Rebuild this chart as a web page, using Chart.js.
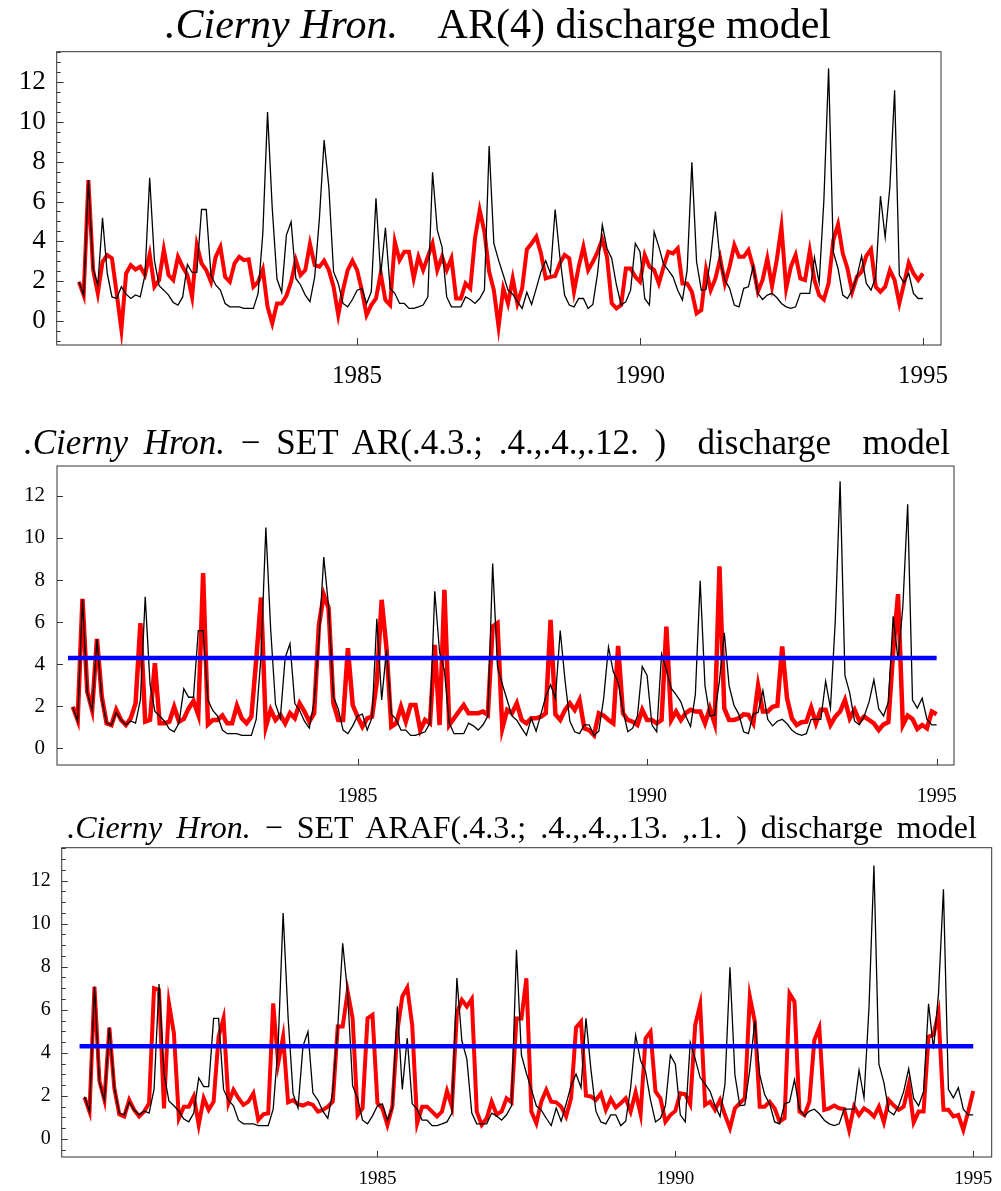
<!DOCTYPE html>
<html>
<head>
<meta charset="utf-8">
<script src="https://cdn.jsdelivr.net/npm/chart.js@4.4.1/dist/chart.umd.min.js"></script>
<style>
html, body { margin: 0; padding: 0; background: #fff; }
body { width: 1001px; height: 1191px; position: relative; overflow: hidden; font-family: 'Liberation Serif', 'Times New Roman', serif; }
canvas { position: absolute; left: 0; }
.title { position: absolute; white-space: pre; transform: translateX(-50%); line-height: 1; color: #000; }
</style>
</head>
<body>
<canvas id="c1" width="1001" height="370" style="top:40px"></canvas>
<canvas id="c2" width="1001" height="360" style="top:460px"></canvas>
<canvas id="c3" width="1001" height="349" style="top:842px"></canvas>
<div class="title" style="left:498px;top:3px;font-size:42px"><i>.Cierny Hron.</i>    AR(4) discharge model</div>
<div class="title" style="left:487px;top:425px;font-size:35px;word-spacing:7px"><i>.Cierny Hron.</i> − SET AR(.4.3.; .4.,.4.,.12. )  discharge  model</div>
<div class="title" style="left:522px;top:811px;font-size:32px;word-spacing:6px"><i>.Cierny Hron.</i> − SET ARAF(.4.3.; .4.,.4.,.13. ,.1. ) discharge model</div>
<script>
// observed monthly discharge (black), 1980-1994
const obs = [
  1.96, 1.29, 7.08, 2.63, 1.8, 5.18, 2.38, 1.2, 1.12, 1.71, 1.34, 1.12,
  1.3, 1.2, 2.3, 7.2, 3.05, 1.76, 1.54, 1.29, 0.92, 0.79, 1.2, 2.83,
  2.43, 2.43, 5.6, 5.6, 2.3, 1.8, 1.54, 0.87, 0.7, 0.7, 0.7, 0.62,
  0.62, 0.62, 1.38, 4.4, 10.5, 5.65, 2.1, 1.43, 4.31, 4.98, 2.13, 1.8,
  1.29, 0.96, 2.21, 5.15, 9.09, 6.74, 2.47, 1.88, 0.87, 0.7, 1.07, 1.54,
  1.63, 0.87, 1.46, 6.16, 2.3, 4.68, 1.63, 1.38, 0.87, 0.87, 0.62, 0.62,
  0.7, 0.79, 1.2, 7.47, 4.56, 3.72, 1.2, 0.7, 0.7, 0.7, 1.2, 1.07,
  0.87, 1.12, 1.54, 8.79, 3.89, 3.05, 2.3, 1.54, 1.34, 0.96, 0.62, 1.43,
  0.82, 1.63, 2.47, 3.02, 2.38, 5.6, 3.22, 1.29, 0.79, 0.7, 1.12, 1.12,
  0.62, 0.82, 2.38, 4.82, 3.64, 3.14, 1.8, 0.79, 0.96, 1.54, 3.89, 3.47,
  1.12, 0.79, 4.48, 3.72, 2.85, 2.55, 2.21, 1.54, 1.04, 2.55, 7.97, 2.97,
  1.54, 1.58, 3.22, 5.49, 2.97, 2.05, 1.63, 0.79, 0.7, 1.63, 1.71, 2.75,
  1.38, 1.07, 1.29, 1.38, 1.17, 0.87, 0.7, 0.62, 0.7, 1.38, 1.38, 1.38,
  3.19, 1.91, 6.07, 12.7, 3.47, 2.63, 1.29, 1.12, 1.54, 2.21, 3.26, 1.88,
  1.54, 2.21, 6.28, 4.19, 6.74, 11.6, 2.3, 1.91, 2.38, 1.38, 1.12, 1.12
];
// AR(4) model (red, top panel)
const ar4 = [
  1.96, 1.29, 7.08, 2.55, 1.38, 2.97, 3.31, 3.14, 1.38, -0.45, 2.38, 2.8,
  2.58, 2.72, 2.3, 3.34, 1.71, 2.05, 3.59, 2.3, 2.05, 3.22, 2.72, 2.3,
  1.2, 3.81, 2.89, 2.55, 1.96, 3.22, 3.72, 2.21, 1.96, 2.89, 3.22, 3.05,
  3.09, 1.71, 1.96, 2.58, 0.7, -0.13, 0.87, 0.87, 1.25, 1.96, 3.05, 2.3,
  2.55, 3.87, 2.8, 2.72, 3.02, 2.55, 1.71, 0.29, 1.54, 2.55, 3.02, 2.55,
  1.54, 0.29, 0.79, 1.12, 2.38, 1.04, 0.79, 3.97, 3.05, 3.47, 3.47, 2.13,
  3.22, 2.55, 3.22, 3.89, 2.55, 3.22, 2.55, 3.14, 1.12, 1.12, 1.88, 1.63,
  4.14, 5.57, 4.48, 2.47, 1.54, -0.3, 1.63, 0.87, 2.13, 0.87, 1.63, 3.59,
  3.89, 4.23, 3.39, 2.13, 2.21, 2.25, 2.89, 3.31, 3.14, 1.46, 2.72, 3.72,
  2.55, 2.97, 3.47, 4.09, 3.22, 0.87, 0.62, 0.79, 2.63, 2.63, 2.21, 1.96,
  3.31, 2.72, 2.55, 1.88, 2.72, 3.47, 3.39, 3.64, 1.88, 1.88, 1.46, 0.37,
  0.54, 2.58, 1.54, 2.13, 3.14, 1.88, 2.72, 3.81, 3.22, 3.22, 3.56, 2.72,
  1.46, 2.05, 3.14, 1.74, 3.05, 4.73, 1.63, 2.72, 3.31, 2.13, 2.05, 3.52,
  2.05, 1.29, 1.07, 1.88, 4.06, 4.85, 3.39, 2.63, 1.46, 2.21, 2.47, 3.26,
  3.59, 1.71, 1.46, 1.71, 2.55, 2.05, 0.87, 1.88, 2.92, 2.38, 2.05, 2.38
];
// SETAR model (red, middle panel)
const setar = [
  1.98, 1.35, 7.11, 2.7, 1.83, 5.2, 2.46, 1.19, 1.11, 1.83, 1.35, 1.11,
  1.43, 2.14, 5.95, 1.27, 1.35, 4.05, 1.19, 1.19, 1.27, 1.98, 1.27, 1.4,
  1.9, 2.25, 1.59, 8.33, 1.14, 1.35, 1.35, 1.56, 1.19, 1.19, 2.03, 1.43,
  1.19, 1.51, 4.21, 7.17, 1.03, 1.83, 1.35, 1.59, 1.19, 1.67, 1.43, 2.14,
  1.75, 1.27, 1.67, 5.87, 7.3, 6.67, 2.14, 1.35, 1.35, 4.76, 2.06, 1.51,
  1.03, 1.43, 1.51, 3.17, 7.06, 4.76, 1.03, 1.19, 1.98, 1.27, 2.06, 2.06,
  0.87, 1.35, 1.19, 4.92, 1.11, 7.54, 1.11, 1.43, 1.75, 2.06, 1.67, 1.67,
  1.67, 1.75, 1.59, 5.79, 5.95, 0.95, 1.83, 1.67, 2.14, 1.35, 1.19, 1.43,
  1.43, 1.51, 1.67, 6.11, 1.62, 1.35, 1.83, 2.14, 1.83, 2.3, 0.95, 0.87,
  0.63, 1.67, 1.56, 1.35, 1.19, 4.87, 1.67, 1.35, 1.27, 1.11, 1.83, 1.35,
  1.35, 1.19, 1.35, 5.79, 1.35, 1.75, 1.35, 1.67, 1.83, 1.75, 1.75, 1.19,
  1.9, 1.19, 8.65, 1.9, 1.35, 1.35, 1.43, 1.62, 1.59, 1.19, 2.98, 1.75,
  1.75, 1.98, 2.03, 4.84, 2.38, 1.43, 1.11, 1.24, 1.27, 1.94, 1.19, 1.83,
  1.83, 1.11, 1.51, 1.75, 2.3, 1.43, 1.83, 1.3, 1.51, 1.35, 1.19, 0.87,
  1.14, 1.24, 4.6, 7.33, 1.11, 1.56, 1.4, 0.92, 1.11, 0.95, 1.75, 1.62
];
// SETARAF model (red, bottom panel)
const setaraf = [
  1.93, 1.27, 7.07, 2.69, 1.81, 5.17, 2.35, 1.14, 1.04, 1.81, 1.35, 1.04,
  1.27, 1.66, 7.0, 6.92, 1.42, 6.3, 4.91, 0.96, 1.5, 1.5, 1.97, 0.65,
  1.89, 1.35, 1.73, 4.75, 5.6, 1.66, 2.28, 1.89, 1.58, 1.73, 2.12, 0.88,
  1.14, 1.19, 6.3, 3.51, 4.75, 1.7, 1.8, 1.61, 1.55, 1.66, 1.58, 1.27,
  1.35, 1.5, 1.73, 5.22, 5.22, 6.84, 5.6, 1.11, 1.42, 5.6, 5.76, 1.66,
  1.42, 0.65, 1.5, 4.98, 6.61, 7.03, 5.29, 0.73, 1.5, 1.5, 1.27, 1.04,
  1.27, 2.23, 1.5, 5.84, 6.46, 6.15, 6.5, 1.27, 0.65, 0.96, 1.73, 1.14,
  1.27, 1.89, 1.7, 5.6, 5.6, 7.46, 1.27, 0.73, 1.73, 2.28, 1.73, 1.7,
  1.5, 1.04, 1.89, 5.17, 5.45, 2.01, 1.97, 1.81, 2.12, 1.35, 1.86, 1.46,
  1.66, 1.89, 1.27, 2.17, 1.15, 4.67, 4.98, 2.2, 1.89, 0.8, 1.11, 1.3,
  2.12, 2.07, 1.61, 5.29, 6.25, 1.58, 1.73, 1.35, 1.81, 1.11, 0.5, 1.42,
  1.66, 1.89, 6.61, 5.45, 1.5, 1.5, 1.73, 1.42, 0.8, 0.96, 6.76, 6.38,
  1.27, 1.11, 1.73, 4.6, 5.17, 1.35, 1.42, 1.55, 1.42, 1.39, 0.42, 1.5,
  1.11, 1.42, 1.27, 1.04, 1.5, 0.77, 1.81, 1.55, 1.35, 1.5, 2.51, 0.77,
  1.27, 1.27, 4.75, 4.83, 5.84, 1.35, 1.35, 1.04, 1.11, 0.42, 1.27, 2.23
];
const threshold = 4.3;
const thresholdSpan = [1980, 1995];
const yearTicks = [1985, 1990, 1995];
const valueTicks = [0, 2, 4, 6, 8, 10, 12];

// monthly time stamps, first value plotted at 1980 + 1/12
const months = obs.map((v, i) => 1980 + (i + 1) / 12);

// frame + inward ticks, Mathematica style
const framePlugin = {
    id: 'frame',
    afterDraw(chart, args, opts) {
        const { ctx, chartArea: a } = chart;
        const x = chart.scales.x, y = chart.scales.y;
        ctx.save();
        ctx.strokeStyle = '#333';
        ctx.lineWidth = 1;
        ctx.strokeRect(a.left, a.top, a.right - a.left, a.bottom - a.top);
        ctx.beginPath();
        yearTicks.forEach(v => {
            const px = Math.round(x.getPixelForValue(v)) + 0.5;
            ctx.moveTo(px, a.bottom);
            ctx.lineTo(px, a.bottom - opts.major);
        });
        const step = opts.minor;
        for (let v = Math.ceil(y.min / step) * step; v <= y.max; v += step) {
            const py = Math.round(y.getPixelForValue(v)) + 0.5;
            const isMajor = valueTicks.some(t => Math.abs(t - v) < 1e-6);
            ctx.moveTo(a.left, py);
            ctx.lineTo(a.left + (isMajor ? opts.major : opts.minorLen), py);
        }
        ctx.stroke();
        ctx.restore();
    }
};

function makePanel(id, p, model, withThreshold) {
    const datasets = [];
    if (withThreshold) {
        datasets.push({
            data: thresholdSpan.map(t => ({ x: t, y: threshold })),
            borderColor: '#0000ff', borderWidth: 4.5
        });
    }
    datasets.push({
        data: months.map((m, i) => ({ x: m, y: obs[i] })),
        borderColor: '#000000', borderWidth: 1.3
    });
    datasets.push({
        data: months.map((m, i) => ({ x: m, y: model[i] })),
        borderColor: '#ff0000', borderWidth: p.redW
    });

    const serif = 'Liberation Serif';
    new Chart(document.getElementById(id), {
        type: 'line',
        data: { datasets },
        options: {
            responsive: false,
            animation: false,
            devicePixelRatio: 1,
            elements: { point: { radius: 0 }, line: { tension: 0 } },
            layout: { padding: { left: 0, top: p.t - p.ct, right: 1001 - p.r, bottom: 0 } },
            plugins: {
                legend: { display: false },
                tooltip: { enabled: false },
                frame: { major: p.tick, minor: p.minor, minorLen: 4 }
            },
            scales: {
                x: {
                    type: 'linear', min: p.xmin, max: p.xmax,
                    grid: { display: false, drawTicks: false },
                    border: { display: false },
                    afterBuildTicks: s => { s.ticks = yearTicks.map(v => ({ value: v })); },
                    afterFit: s => { s.height = p.ch - (p.b - p.ct); s.paddingLeft = 0; s.paddingRight = 0; },
                    ticks: {
                        autoSkip: false, maxRotation: 0, padding: p.xpad, color: '#000',
                        font: { family: serif, size: p.xfs },
                        callback: v => String(v)
                    }
                },
                y: {
                    type: 'linear', min: p.ymin, max: p.ymax,
                    grid: { display: false, drawTicks: false },
                    border: { display: false },
                    afterBuildTicks: s => { s.ticks = valueTicks.map(v => ({ value: v })); },
                    afterFit: s => { s.width = p.l; s.paddingTop = 0; s.paddingBottom = 0; },
                    ticks: {
                        padding: p.ypad, color: '#000',
                        font: { family: serif, size: p.yfs },
                        callback: v => String(v)
                    }
                }
            }
        },
        plugins: [framePlugin]
    });
}

makePanel('c1', {
    ct: 40, ch: 370, l: 56.7, r: 941, t: 51.7, b: 345,
    xmin: 1979.69, xmax: 1995.32, ymin: -1.22, ymax: 13.54,
    xfs: 25, yfs: 27, xpad: 16, ypad: 11, tick: 7, minor: 0.5, redW: 4
}, ar4, false);

makePanel('c2', {
    ct: 460, ch: 360, l: 57, r: 954, t: 466, b: 765,
    xmin: 1979.81, xmax: 1995.30, ymin: -0.79, ymax: 13.42,
    xfs: 20, yfs: 21, xpad: 20, ypad: 12, tick: 6, minor: 2, redW: 4.5
}, setar, true);

makePanel('c3', {
    ct: 842, ch: 349, l: 61.7, r: 991.7, t: 847.7, b: 1157,
    xmin: 1979.70, xmax: 1995.31, ymin: -0.84, ymax: 13.53,
    xfs: 19, yfs: 20, xpad: 11, ypad: 11, tick: 6, minor: 0.5, redW: 4
}, setaraf, true);
</script>
</body>
</html>
